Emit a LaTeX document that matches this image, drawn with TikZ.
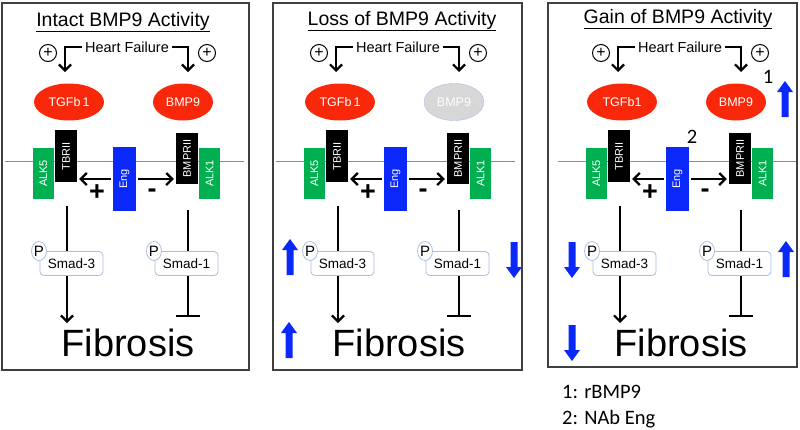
\documentclass[tikz,border=0pt]{standalone}
\usepackage{fontspec}
\usepackage{graphicx}
\setmainfont{Liberation Sans}
\newfontfamily\legendfont{Carlito}
\usetikzlibrary{arrows.meta,backgrounds,shapes.geometric}
\definecolor{ligred}{RGB}{250,40,10}
\definecolor{recgreen}{RGB}{0,176,80}
\definecolor{engblue}{RGB}{10,40,250}
\definecolor{paleblue}{RGB}{170,190,225}
\definecolor{ligray}{RGB}{215,215,215}
\definecolor{boxgray}{RGB}{64,64,64}
\tikzset{
  fs/.style={font=\fontsize{#1}{#1}\selectfont},
  panelbox/.style={draw=boxgray,line width=1.6pt},
  titletext/.style={fs=19.5,inner sep=0},
  hf/.style={fs=14.5,inner sep=3pt},
  pluscirc/.style={circle,draw,line width=1pt,minimum size=17,inner sep=0,fs=16},
  conn/.style={line width=2.2pt},
  barb/.style={-{Straight Barb[length=6pt,width=12pt]}},
  ligand/.style={ellipse,fill=ligred,text=white,minimum height=37,inner sep=0,fs=12.5},
  ligandoff/.style={ellipse,fill=ligray,draw=paleblue,text=white,minimum height=37,inner sep=0,fs=12.5},
  rec/.style={text=white,inner sep=0,fs=11},
  smad/.style={draw=paleblue,line width=0.8pt,fill=white,rounded corners=4,minimum width=63,minimum height=24,inner sep=0,fs=13.5},
  pcirc/.style={ellipse,draw=paleblue,line width=0.8pt,fill=white,minimum width=15,minimum height=19,inner sep=0,fs=15},
  sign/.style={font=\bfseries\fontsize{27}{27}\selectfont,inner sep=0},
  fib/.style={fs=38,inner sep=0},
  membrane/.style={draw=black!45,line width=0.8pt},
  bluefill/.style={fill=engblue},
  uparrow/.pic={\fill[bluefill] (-3.5,0) -- (-3.5,-25) -- (-8,-25) -- (0,-36) -- (8,-25) -- (3.5,-25) -- (3.5,0) -- cycle;},
  legtext/.style={font=\legendfont\fontsize{20.5}{20.5}\selectfont,inner sep=0}
}
\newcommand\drawpanel[4]{%
\begin{scope}[xshift=#1pt]
\node[hf] (#2hf) at (127,47) {Heart Failure};
\node[pluscirc] (#2pl) at (48,53) {+};
\node[pluscirc] (#2pr) at (207,53) {+};
\coordinate (#2al) at (65,72);
\coordinate (#2ar) at (188,72);
\draw[conn,barb] (#2hf.west) -| (#2al);
\draw[conn,barb] (#2hf.east) -| (#2ar);
\node[ligand,minimum width=70] (#2tgf) at (69,102) {#4};
\node[#3,minimum width=60] (#2bmp) at (183,102) {BMP9};
\node[rec,fill=recgreen,minimum width=21,minimum height=51] (#2alk5) at (43.5,173.5) {\rotatebox{90}{ALK5}};
\node[rec,fill=black,minimum width=22,minimum height=52] (#2tbr) at (66,156) {\rotatebox{90}{TBRII}};
\node[rec,fill=engblue,minimum width=23,minimum height=64] (#2eng) at (124.5,179) {\rotatebox{90}{Eng}};
\node[rec,fill=black,minimum width=22,minimum height=51] (#2bmpr) at (187,158.5) {\rotatebox{90}{BMPRII}};
\node[rec,fill=recgreen,minimum width=21,minimum height=51] (#2alk1) at (209.5,173.5) {\rotatebox{90}{ALK1}};
\coordinate (#2ml) at (5,161);
\coordinate (#2mr) at (244,161);
\begin{pgfonlayer}{background}
\draw[membrane] (#2ml) -- (#2mr);
\end{pgfonlayer}
\draw[conn,barb,shorten <=2pt,shorten >=2pt] (#2eng.west) -- (#2eng.west -| #2tbr.east);
\draw[conn,barb,shorten <=2pt,shorten >=2pt] (#2eng.east) -- (#2eng.east -| #2bmpr.west);
\node[sign] (#2plus) at (97,193) {+};
\node[sign] (#2minus) at (152,193) {-};
\node[smad] (#2s3) at (71.5,263.5) {Smad-3};
\node[smad] (#2s1) at (186.5,263.5) {Smad-1};
\node[pcirc] (#2p3) at (39,251) {P};
\node[pcirc] (#2p1) at (154,251) {P};
\node[fib] (#2fib) at (128,343) {Fibrosis};
\coordinate (#2la) at (67,206);
\coordinate (#2lb) at (67,323);
\coordinate (#2ra) at (188,210);
\coordinate (#2rb) at (188,317);
\begin{pgfonlayer}{background}
\draw[conn,barb] (#2la) -- (#2lb);
\draw[conn,-{Bar[width=24pt,line width=2.4pt]}] (#2ra) -- (#2rb);
\end{pgfonlayer}
\end{scope}}
\begin{document}
\begin{tikzpicture}[x=1pt,y=-1pt]
\useasboundingbox (0,0) rectangle (800,429);
% panel frames
\draw[panelbox] (2,3) rectangle (249,370);
\draw[panelbox] (273,3) rectangle (522,370);
\draw[panelbox] (548,3) rectangle (797,367);
% titles
\node[titletext] (t1) at (123,22) {\underline{Intact BMP9 Activity}};
\node[titletext] (t2) at (402,21) {\underline{Loss of BMP9 Activity}};
\node[titletext] (t3) at (678,19) {\underline{Gain of BMP9 Activity}};
\drawpanel{0}{a}{ligand}{TGFb\,1}
\drawpanel{271}{b}{ligandoff}{TGFb\,1}
\drawpanel{553}{c}{ligand}{TGFb1}
% blue change arrows
\pic at (290,275) {uparrow};
\pic[rotate=180] at (514,242) {uparrow};
\pic at (289,358) {uparrow};
\pic[rotate=180] at (572,242) {uparrow};
\pic at (786,277) {uparrow};
\pic[rotate=180] at (572,325) {uparrow};
\pic at (785,117) {uparrow};
% treatment labels
\node[legtext] (n1) at (768,77) {1};
\node[legtext] (n2) at (692,137) {2};
\node[legtext,anchor=base west] (l1) at (562,398) {1: rBMP9};
\node[legtext,anchor=base west] (l2) at (562,424) {2: NAb Eng};
\end{tikzpicture}
\end{document}
